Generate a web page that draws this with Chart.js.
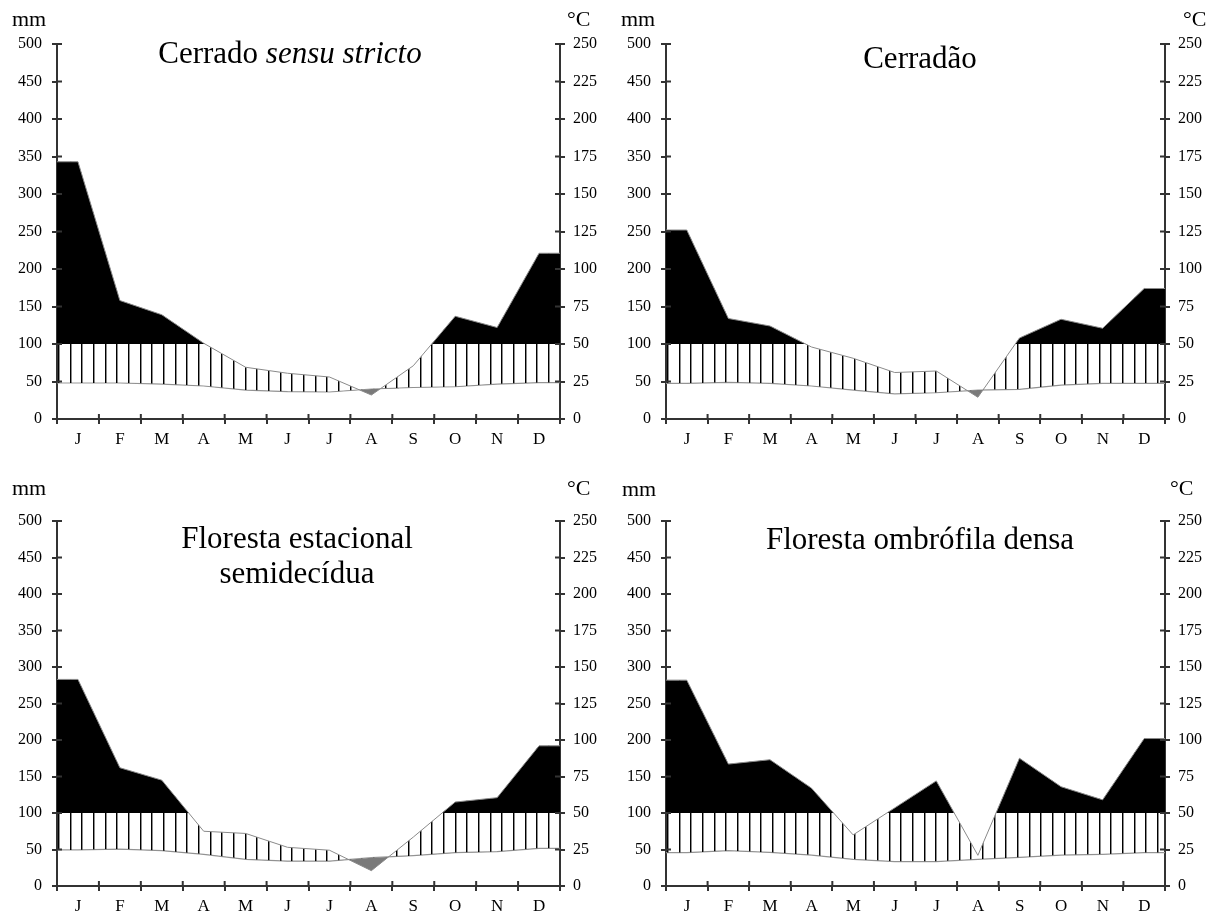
<!DOCTYPE html>
<html><head><meta charset="utf-8">
<script src="https://cdn.jsdelivr.net/npm/chart.js@4.4.1/dist/chart.umd.min.js"></script>
<style>
html,body{margin:0;padding:0;background:#fff;}
body{width:1218px;height:914px;position:relative;overflow:hidden;font-family:'Liberation Serif','Times New Roman',serif;}
.panel{position:absolute;width:609px;height:457px;}
.panel canvas{position:absolute;left:0;top:0;}
.txt{position:absolute;color:#000;white-space:nowrap;line-height:1;}
.title{font-size:31px;transform:translateX(-50%);}
.unit{font-size:22px;}
</style></head><body>
<div class="panel" style="left:0;top:0"><canvas id="c1" width="609" height="457"></canvas></div>
<div class="panel" style="left:609px;top:0"><canvas id="c2" width="609" height="457"></canvas></div>
<div class="panel" style="left:0;top:457px"><canvas id="c3" width="609" height="457"></canvas></div>
<div class="panel" style="left:609px;top:457px"><canvas id="c4" width="609" height="457"></canvas></div>

<div class="txt unit" style="left:12px;top:8px">mm</div>
<div class="txt unit" style="left:567px;top:8px">°C</div>
<div class="txt unit" style="left:621px;top:8px">mm</div>
<div class="txt unit" style="left:1183px;top:8px">°C</div>
<div class="txt unit" style="left:12px;top:477px">mm</div>
<div class="txt unit" style="left:567px;top:477px">°C</div>
<div class="txt unit" style="left:622px;top:478px">mm</div>
<div class="txt unit" style="left:1170px;top:477px">°C</div>

<div class="txt title" style="left:290px;top:37px">Cerrado <i>sensu stricto</i></div>
<div class="txt title" style="left:920px;top:42px">Cerradão</div>
<div class="txt title" style="left:297px;top:522px">Floresta estacional</div>
<div class="txt title" style="left:297px;top:557px">semidecídua</div>
<div class="txt title" style="left:920px;top:523px">Floresta ombrófila densa</div>

<script>
// ---- data ----
const months = ['J','F','M','A','M','J','J','A','S','O','N','D'];
const mmTickStep = 50;   // left axis (mm), 0..500
const degTickStep = 25;  // right axis (°C), 0..250

const precipCerradoSS = [343,158,139,101,69,61,56,32,71,137,122,221];
const tempCerradoSS   = [24,24,23.3,22,19.3,18.2,18,20,21,21.5,23.3,24.2];

const precipCerradao = [252,134,124,96,81,62,64,29,108,133,121,174];
const tempCerradao   = [23.8,24.4,23.8,22,19.3,16.7,17.5,19.3,19.8,22.6,23.8,23.8];

const precipFES = [283,162,145,75,72,53,49,21,67,115,121,192];
const tempFES   = [24.7,25.3,24.2,21.7,18.3,17,17,19.4,20.8,22.8,23.5,25.8];

const precipFOD = [282,167,173,134,70,107,144,42,175,136,118,202];
const tempFOD   = [22.8,24.2,23,21.2,18.3,16.7,16.7,18.3,19.6,21.2,21.7,22.8];

// ---- helpers ----
Chart.defaults.font.family = "'Liberation Serif','Times New Roman',serif";
Chart.defaults.color = '#000';

function toPoints(vals){
  const pts = vals.map((v,i)=>({x:i+0.5,y:v}));
  return [{x:0,y:vals[0]}, ...pts, {x:vals.length,y:vals[vals.length-1]}];
}

function makeHatch(ctx){
  const c = document.createElement('canvas');
  c.width = 35; c.height = 8;
  const g = c.getContext('2d');
  [0,12,23].forEach(x=>{
    g.fillStyle = '#000'; g.fillRect(x,0,1,8);
    g.fillStyle = 'rgba(0,0,0,0.45)'; g.fillRect(x+1,0,1,8);
  });
  const p = ctx.createPattern(c,'repeat');
  p.setTransform(new DOMMatrix().translate(23,0));
  return p;
}

const crossTicks = {
  id:'crossTicks',
  afterDraw(chart){
    const {ctx, chartArea:a, scales} = chart;
    ctx.save();
    ctx.strokeStyle = '#333'; ctx.lineWidth = 2;
    ctx.beginPath();
    scales.y.ticks.forEach(t=>{const y=scales.y.getPixelForValue(t.value); ctx.moveTo(a.left,y); ctx.lineTo(a.left+5,y);});
    scales.y2.ticks.forEach(t=>{const y=scales.y2.getPixelForValue(t.value); ctx.moveTo(a.right-5,y); ctx.lineTo(a.right,y);});
    scales.x.ticks.forEach(t=>{const x=scales.x.getPixelForValue(t.value); ctx.moveTo(x,a.bottom-5); ctx.lineTo(x,a.bottom);});
    ctx.stroke();
    ctx.restore();
  }
};

function makePanel(id, precip, temp, g){
  const canvas = document.getElementById(id);
  const ctx = canvas.getContext('2d');
  const hatch = makeHatch(ctx);
  const axisGrid = {drawOnChartArea:false, drawTicks:true, tickLength:5, color:'#333', lineWidth:2};
  const axisBorder = {display:true, color:'#333', width:2};
  new Chart(ctx, {
    type:'line',
    data:{datasets:[
      {data:toPoints(precip), yAxisID:'y', borderColor:'#8a8a8a', borderWidth:1, pointRadius:0, tension:0,
       fill:{target:{value:100}, above:'#000', below:'rgba(0,0,0,0)'}},
      {data:toPoints(precip), yAxisID:'y', borderColor:'rgba(0,0,0,0)', borderWidth:0, pointRadius:0, tension:0,
       fill:{target:2, above:hatch, below:'#7a7a7a'}},
      {data:toPoints(temp), yAxisID:'y2', borderColor:'#9a9a9a', borderWidth:1.2, pointRadius:0, tension:0, fill:false}
    ]},
    options:{
      responsive:false, animation:false, devicePixelRatio:1,
      layout:{padding:{top:g.top, left:0, right:0, bottom:0}},
      plugins:{legend:{display:false}, tooltip:{enabled:false}, title:{display:false}},
      scales:{
        x:{type:'linear', min:0, max:12, position:'bottom',
           grid:axisGrid, border:axisBorder,
           afterBuildTicks:s=>{s.ticks = months.map((m,i)=>({value:i})).concat([{value:12}]);},
           afterFit:s=>{s.height = 457 - g.bottom;},
           ticks:{autoSkip:false, maxRotation:0, padding:5, labelOffset:21,
                  font:{size:17}, callback:v=>months[v] ?? ''}},
        y:{type:'linear', position:'left', min:0, max:500,
           grid:axisGrid, border:axisBorder,
           afterFit:s=>{s.width = g.left;},
           ticks:{stepSize:mmTickStep, padding:10, font:{size:16}}},
        y2:{type:'linear', position:'right', min:0, max:250,
           grid:axisGrid, border:axisBorder,
           afterFit:s=>{s.width = 609 - g.right;},
           ticks:{stepSize:degTickStep, padding:8, font:{size:16}}}
      }
    },
    plugins:[crossTicks]
  });
}

makePanel('c1', precipCerradoSS, tempCerradoSS, {left:57, right:560, top:44, bottom:419});
makePanel('c2', precipCerradao,  tempCerradao,  {left:57, right:556, top:44, bottom:419});
makePanel('c3', precipFES,       tempFES,       {left:57, right:560, top:64, bottom:429});
makePanel('c4', precipFOD,       tempFOD,       {left:57, right:556, top:64, bottom:429});
</script>
</body></html>
